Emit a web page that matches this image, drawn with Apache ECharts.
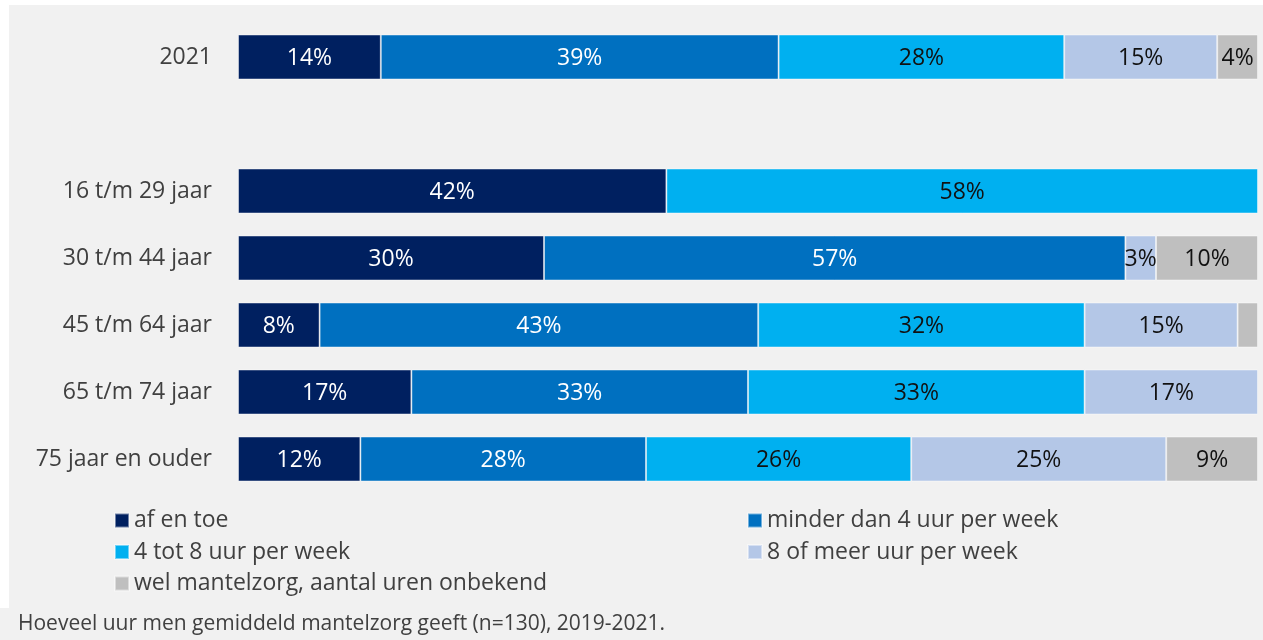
<!DOCTYPE html>
<html>
<head>
<meta charset="utf-8">
<script src="https://cdn.jsdelivr.net/npm/echarts@6/dist/echarts.min.js"></script>
<style>
html,body{margin:0;padding:0;background:#fff;}
#c{width:1263px;height:640px;}
</style>
</head>
<body>
<div id="c"></div>
<script>
const categories = ['2021', '', '16 t/m 29 jaar', '30 t/m 44 jaar', '45 t/m 64 jaar', '65 t/m 74 jaar', '75 jaar en ouder'];
const seriesNames = ['af en toe', 'minder dan 4 uur per week', '4 tot 8 uur per week', '8 of meer uur per week', 'wel mantelzorg, aantal uren onbekend'];
const afEnToe   = [14, null, 42, 30, 8, 17, 12];
const minder4   = [39, null, null, 57, 43, 33, 28];
const tot8      = [28, null, 58, null, 32, 33, 26];
const meer8     = [15, null, null, 3, 15, 17, 25];
const onbekend  = [4, null, null, 10, 2, null, 9];
const footnote = 'Hoeveel uur men gemiddeld mantelzorg geeft (n=130), 2019-2021.';

const colors = ['#002060', '#0070c0', '#00b0f0', '#b4c7e7', '#bfbfbf'];
const labelColors = ['#ffffff', '#ffffff', '#111111', '#111111', '#111111'];
const values = [afEnToe, minder4, tot8, meer8, onbekend];
const FONT = '"Open Sans", sans-serif';

const chart = echarts.init(document.getElementById('c'), null, {renderer: 'canvas'});
const series = seriesNames.map((name, i) => ({
  name: name,
  type: 'bar',
  stack: 'total',
  barWidth: 45,
  data: values[i],
  itemStyle: {color: colors[i], borderColor: 'rgba(255,255,255,0.45)', borderWidth: 1},
  label: {
    show: true,
    position: 'inside',
    color: labelColors[i],
    fontFamily: FONT,
    fontSize: 23,
    offset: [0, 1],
    formatter: p => (p.value != null && p.value >= 3) ? p.value + '%' : ''
  },
  emphasis: {disabled: true},
  animation: false
}));

const legendCommon = {
  orient: 'vertical',
  icon: 'rect',
  itemWidth: 14,
  itemHeight: 14,
  itemGap: 8.5,
  padding: 0,
  textStyle: {fontFamily: FONT, fontSize: 23, color: '#404040', lineHeight: 23},
  selectedMode: false
};

chart.setOption({
  backgroundColor: '#f1f1f1',
  animation: false,
  grid: {left: 238, right: 5, top: 23.5, height: 469, containLabel: false},
  xAxis: {type: 'value', min: 0, max: 100, show: false},
  yAxis: {
    type: 'category',
    data: categories,
    inverse: true,
    axisLine: {show: false},
    axisTick: {show: false},
    axisLabel: {fontFamily: FONT, fontSize: 23, color: '#404040', margin: 26}
  },
  legend: [
    Object.assign({}, legendCommon, {left: 114, top: 509, data: [seriesNames[0], seriesNames[2], seriesNames[4]]}),
    Object.assign({}, legendCommon, {left: 747, top: 509, data: [seriesNames[1], seriesNames[3]]})
  ],
  graphic: [
    {type: 'rect', left: 0, top: 0, shape: {width: 1263, height: 5}, style: {fill: '#ffffff'}, silent: true},
    {type: 'rect', left: 0, top: 0, shape: {width: 9, height: 608}, style: {fill: '#ffffff'}, silent: true},
    {type: 'text', left: 18, top: 614, style: {text: footnote, font: '21px "Open Sans", sans-serif', fill: '#404040'}, silent: true}
  ],
  series: series
});
</script>
</body>
</html>
